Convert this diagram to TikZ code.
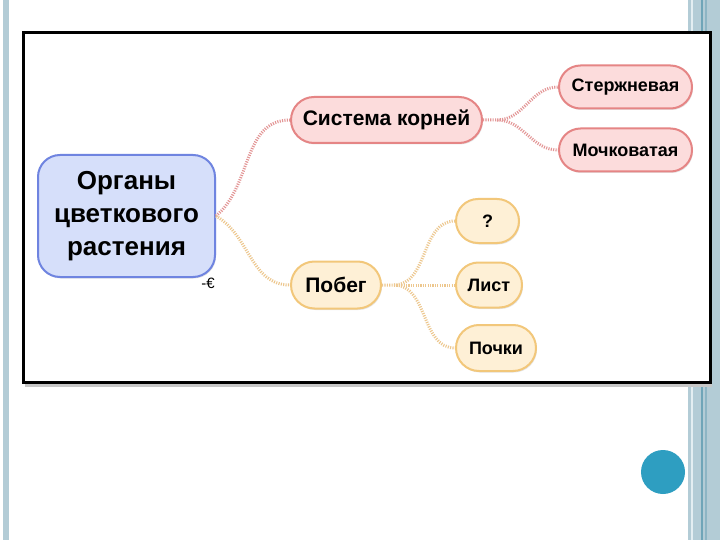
\documentclass[tikz,border=0pt]{standalone}
\usepackage{fontspec}
\setmainfont{Liberation Sans}
\usetikzlibrary{shapes.misc, shadows, positioning, calc}

\definecolor{barblue}{HTML}{B3CCD6}
\definecolor{barlight}{HTML}{E3EEF2}
\definecolor{bardark}{HTML}{6FA5B8}
\definecolor{barmid}{HTML}{8DB5C4}
\definecolor{dotblue}{HTML}{2E9EC1}
\definecolor{hubfill}{HTML}{D6DFFA}
\definecolor{hubline}{HTML}{6F84E0}
\definecolor{rootfill}{HTML}{FCDCDC}
\definecolor{rootline}{HTML}{E58585}
\definecolor{rootlink}{HTML}{E39595}
\definecolor{shootfill}{HTML}{FEF0D6}
\definecolor{shootline}{HTML}{F2C77A}
\definecolor{shootlink}{HTML}{EDC78E}

\begin{document}
\begin{tikzpicture}[x=1pt, y=-1pt, font=\bfseries,
    pill/.style={rounded rectangle, line width=2pt, inner xsep=8pt, inner ysep=0pt,
        drop shadow={shadow xshift=1pt, shadow yshift=-1.5pt, opacity=0.2}},
    rootbox/.style={pill, draw=rootline, fill=rootfill},
    shootbox/.style={pill, draw=shootline, fill=shootfill},
    link/.style={line width=3pt, dash pattern=on 1.1pt off 1.3pt},
    rootwire/.style={link, draw=rootlink},
    shootwire/.style={link, draw=shootlink}]
    \useasboundingbox (0,0) rectangle (720,540);
    \fill[white] (0,0) rectangle (720,540);
    \fill[barblue] (3,0) rectangle (9,540);
    \fill[barblue] (688,0) rectangle (720,540);
    \fill[barlight] (690.5,0) rectangle (693,540);
    \fill[bardark] (701,0) rectangle (702.5,540);
    \fill[barmid] (705,0) rectangle (706.5,540);
    \fill[white] (23.5,32.5) rectangle (710,382.5);
    \fill[black!22] (25,384) rectangle (711.5,386.5);
    \draw[line width=3pt] (23.5,32.5) rectangle (710,382.5);
    \fill[dotblue] (663,472) circle (22);

    \node[draw=hubline, fill=hubfill, line width=2pt, rounded corners=22pt,
        minimum width=177pt, minimum height=122pt, inner sep=0pt, align=center,
        font=\bfseries\fontsize{26}{33}\selectfont,
        drop shadow={shadow xshift=1pt, shadow yshift=-1.5pt, opacity=0.2}]
        (hub) at (126.5,216) {Органы\\цветкового\\растения};
    \node[font=\fontsize{15}{15}\selectfont] (fold) at (208,283) {-€};

    \node[rootbox, anchor=west, minimum width=207pt, minimum height=46pt,
        font=\bfseries\fontsize{21}{21}\selectfont] (roots) at (290,120) {Система корней};
    \node[rootbox, anchor=west, minimum width=149pt, minimum height=43pt,
        font=\bfseries\fontsize{18}{18}\selectfont] (taproot) at (558,87) {Стержневая};
    \node[rootbox, anchor=west, minimum width=149pt, minimum height=43pt,
        font=\bfseries\fontsize{18}{18}\selectfont] (fibrous) at (558,150) {Мочковатая};

    \node[shootbox, anchor=west, minimum width=106pt, minimum height=47pt,
        font=\bfseries\fontsize{21}{21}\selectfont] (shoot) at (290,285) {Побег};
    \node[shootbox, anchor=west, minimum width=79pt, minimum height=44pt,
        font=\bfseries\fontsize{18}{18}\selectfont] (stem) at (455,221) {?};
    \node[shootbox, anchor=west, minimum width=82pt, minimum height=45pt,
        font=\bfseries\fontsize{18}{18}\selectfont] (leaf) at (455,285) {Лист};
    \node[shootbox, anchor=west, minimum width=96pt, minimum height=46pt,
        font=\bfseries\fontsize{18}{18}\selectfont] (buds) at (455,348) {Почки};

    \draw[rootwire] (hub.east) to[out=40, in=180] (roots.west);
    \draw[rootwire] (roots.east) -- ++(14,0) coordinate (rootfork) to[out=0, in=180] (taproot.west);
    \draw[rootwire] (rootfork) to[out=0, in=180] (fibrous.west);
    \draw[shootwire] (hub.east) to[out=-30, in=180] (shoot.west);
    \draw[shootwire] (shoot.east) -- ++(12,0) coordinate (shootfork) to[out=0, in=180] (stem.west);
    \draw[shootwire] (shootfork) -- (leaf.west);
    \draw[shootwire] (shootfork) to[out=0, in=180] (buds.west);
\end{tikzpicture}
\end{document}
